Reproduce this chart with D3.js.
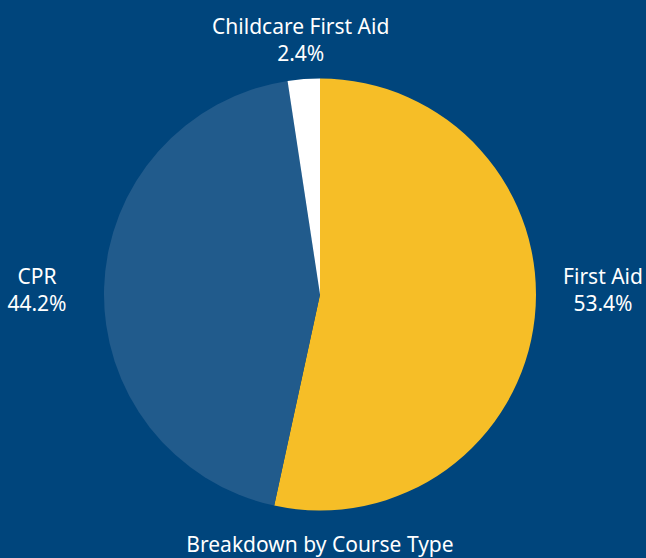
<!DOCTYPE html>
<html>
<head>
<meta charset="utf-8">
<script src="https://cdn.jsdelivr.net/npm/d3@7"></script>
<style>
  html, body { margin: 0; padding: 0; background: #00457c; }
  svg { display: block; }
  text { font-family: "Noto Sans", Lato, sans-serif; fill: #ffffff; }
</style>
</head>
<body>
<svg id="chart" width="646" height="558"></svg>
<script>
// Course type breakdown
const categories = ["First Aid", "CPR", "Childcare First Aid"];
const shares = [53.4, 44.2, 2.4];
const sliceColors = ["#f6be27", "#215b8c", "#ffffff"];
const chartTitle = "Breakdown by Course Type";

const width = 646, height = 558;
const cx = 320, cy = 294.5, radius = 216;
const fontSize = 21;

const svg = d3.select("#chart");
const data = categories.map((c, i) => ({ name: c, value: shares[i], color: sliceColors[i] }));

const pie = d3.pie().sort(null).value(d => d.value);
const arcs = pie(data);
const arc = d3.arc().innerRadius(0).outerRadius(radius);

const g = svg.append("g").attr("transform", `translate(${cx},${cy})`);

g.selectAll("path.slice")
  .data(arcs)
  .join("path")
  .attr("class", "slice")
  .attr("d", arc)
  .attr("fill", d => d.data.color);

// Labels: slices whose middle points sideways get a side label; others sit above/below
function labelPos(d) {
  const a = (d.startAngle + d.endAngle) / 2;
  const s = Math.sin(a), c = Math.cos(a);
  if (Math.abs(s) > 0.95) {
    return [Math.sign(s) * (radius + 67), -6];
  }
  const r = radius + 40;
  return [r * s, -r * c];
}

const labels = g.selectAll("g.label")
  .data(arcs)
  .join("g")
  .attr("class", "label")
  .attr("transform", d => `translate(${labelPos(d)})`);

labels.append("text")
  .attr("text-anchor", "middle")
  .attr("y", -5)
  .attr("font-size", fontSize)
  .text(d => d.data.name);

labels.append("text")
  .attr("text-anchor", "middle")
  .attr("y", 22)
  .attr("font-size", fontSize)
  .text(d => d.data.value.toFixed(1) + "%");

svg.append("text")
  .attr("x", cx)
  .attr("y", 552)
  .attr("text-anchor", "middle")
  .attr("font-size", fontSize)
  .text(chartTitle);
</script>
</body>
</html>
